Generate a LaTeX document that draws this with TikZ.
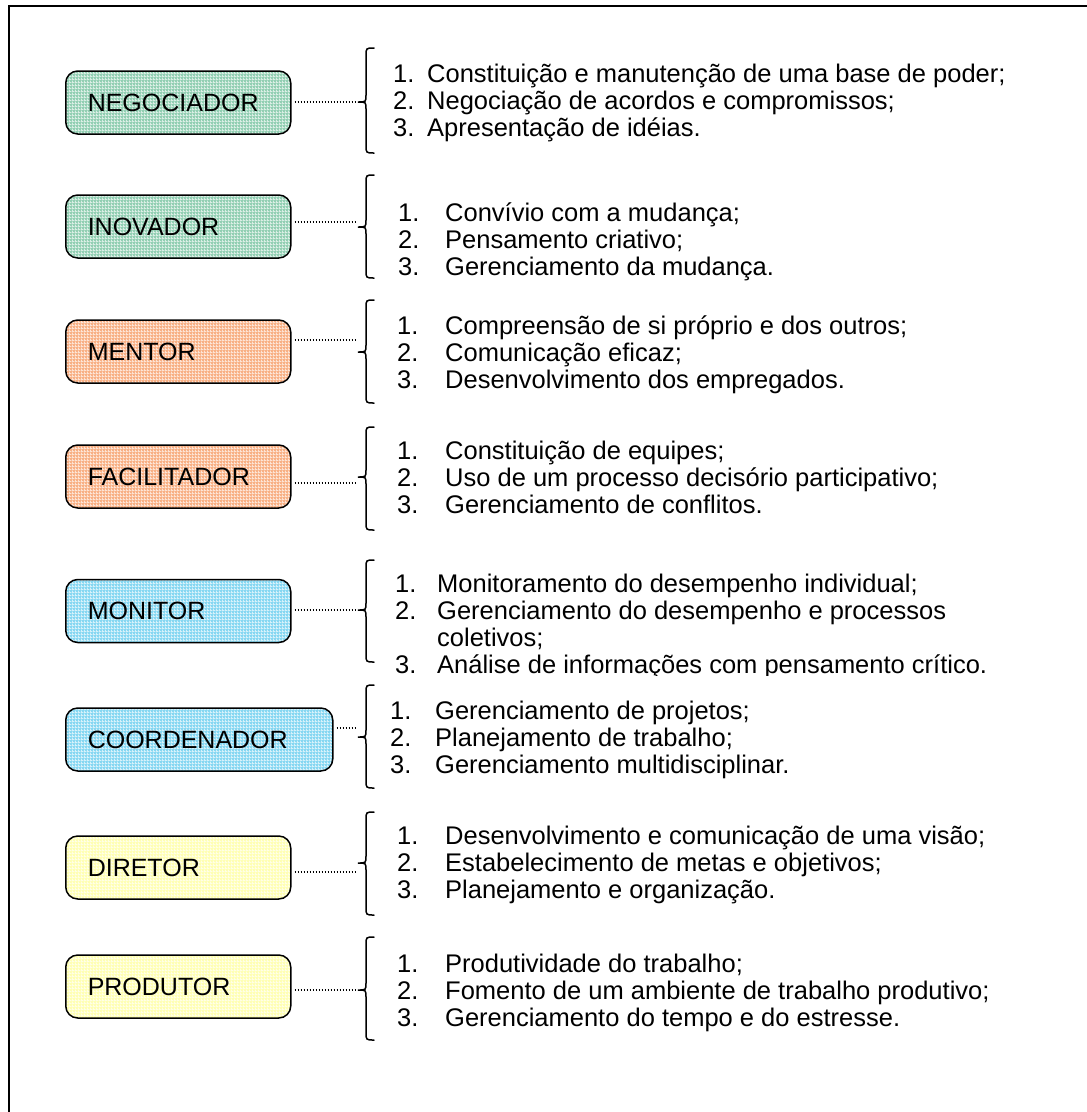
\documentclass[tikz,border=0pt]{standalone}
\usepackage{fontspec}
\setmainfont{Liberation Sans}
\usepackage{array}
\usetikzlibrary{patterns.meta}
\definecolor{cgreen}{HTML}{92CFB3}
\definecolor{corange}{HTML}{F8B085}
\definecolor{cblue}{HTML}{86D7F2}
\definecolor{cyellow}{HTML}{FFFFB4}
% light grid laid over the box fills
\tikzdeclarepattern{name=finegrid, type=uncolored,
  bounding box={(0pt,0pt) and (3pt,3pt)}, tile size={(3pt,3pt)},
  code={\fill (0pt,0pt) rectangle (1pt,3pt); \fill (1pt,0pt) rectangle (3pt,1pt);}}
% curly brace: top y, bottom y, tip y
\newcommand\wbrace[3]{%
  \draw[bracestyle] (374,#1) .. controls (366,#1) .. (366,{#1+8})
    -- (366,{#3-7}) .. controls (366,#3) .. (358,#3)
    .. controls (366,#3) .. (366,{#3+7})
    -- (366,{#2-8}) .. controls (366,#2) .. (374,#2);}
\begin{document}
\begin{tikzpicture}[x=1pt,y=-1pt,
  font=\fontsize{25.5}{27}\selectfont,
  role/.style={draw=black, line width=1.5pt, rounded corners=12pt,
    minimum height=63pt, inner xsep=22pt, inner ysep=0pt,
    text width=#1, align=left, anchor=west, font=\fontsize{25}{27}\selectfont},
  role/.default=181pt,
  tint/.style={preaction={fill=#1}, pattern=finegrid, pattern color=#1!35!white},
  items/.style={inner sep=0pt, anchor=north west},
  dotline/.style={line width=1.2pt, dash pattern=on 1.2pt off 1.8pt, shorten <=3pt},
  bracestyle/.style={line width=1.5pt, line cap=round}]
\useasboundingbox (0,0) rectangle (1087,1112);
% outer frame
\draw[line width=2pt] (8.5,1112) -- (8.5,5.5) -- (1087,5.5);

% roles
\node[role, tint=cgreen]  (neg) at (65,102.5) {NEGOCIADOR};
\node[role, tint=cgreen]  (ino) at (65,226.5) {INOVADOR};
\node[role, tint=corange] (men) at (65,351.5) {MENTOR};
\node[role, tint=corange] (fac) at (65,476.5) {FACILITADOR};
\node[role, tint=cblue]   (mon) at (65,611)   {MONITOR};
\node[role=223pt, tint=cblue] (coo) at (65,739.5) {COORDENADOR};
\node[role, tint=cyellow] (dir) at (65,867.5) {DIRETOR};
\node[role, tint=cyellow] (pro) at (65,986.5) {PRODUTOR};

% braces
\wbrace{48}{153}{102}
\wbrace{175}{278}{227}
\wbrace{300}{403}{352}
\wbrace{427}{530}{477}
\wbrace{560}{662}{610}
\wbrace{685}{788}{737}
\wbrace{812}{915}{863}
\wbrace{937}{1040}{990}

% connector ends at the braces
\coordinate (tneg) at (357,102);
\coordinate (tino) at (357,222);
\coordinate (tmen) at (357,340);
\coordinate (tfac) at (357,483);
\coordinate (tmon) at (357,610);
\coordinate (tcoo) at (357,728);
\coordinate (tdir) at (357,872);
\coordinate (tpro) at (357,990);
\foreach \r in {neg,ino,men,fac,mon,coo,dir,pro}
  \draw[dotline] (\r.east |- t\r) -- (t\r);

% competence lists
\node[items] (lneg) at (393,63.2) {\begin{tabular}{@{}p{34pt}@{}l@{}}
1. & Constituição e manutenção de uma base de poder;\\
2. & Negociação de acordos e compromissos;\\
3. & Apresentação de idéias.\end{tabular}};
\node[items] (lino) at (398,202.2) {\begin{tabular}{@{}p{47pt}@{}l@{}}
1. & Convívio com a mudança;\\
2. & Pensamento criativo;\\
3. & Gerenciamento da mudança.\end{tabular}};
\node[items] (lmen) at (397,315.2) {\begin{tabular}{@{}p{48pt}@{}l@{}}
1. & Compreensão de si próprio e dos outros;\\
2. & Comunicação eficaz;\\
3. & Desenvolvimento dos empregados.\end{tabular}};
\node[items] (lfac) at (397,440.2) {\begin{tabular}{@{}p{48pt}@{}l@{}}
1. & Constituição de equipes;\\
2. & Uso de um processo decisório participativo;\\
3. & Gerenciamento de conflitos.\end{tabular}};
\begin{scope}
\clip (380,550) rectangle (1087,675);
\node[items] (lmon) at (395,573.2) {\begin{tabular}{@{}p{42pt}@{}l@{}}
1. & Monitoramento do desempenho individual;\\
2. & Gerenciamento do desempenho e processos\\
   & coletivos;\\
3. & Análise de informações com pensamento crítico.\end{tabular}};
\end{scope}
\node[items] (lcoo) at (390,700.2) {\begin{tabular}{@{}p{45pt}@{}l@{}}
1. & Gerenciamento de projetos;\\
2. & Planejamento de trabalho;\\
3. & Gerenciamento multidisciplinar.\end{tabular}};
\node[items] (ldir) at (397,825.2) {\begin{tabular}{@{}p{48pt}@{}l@{}}
1. & Desenvolvimento e comunicação de uma visão;\\
2. & Estabelecimento de metas e objetivos;\\
3. & Planejamento e organização.\end{tabular}};
\node[items] (lpro) at (397,953.2) {\begin{tabular}{@{}p{48pt}@{}l@{}}
1. & Produtividade do trabalho;\\
2. & Fomento de um ambiente de trabalho produtivo;\\
3. & Gerenciamento do tempo e do estresse.\end{tabular}};
\end{tikzpicture}
\end{document}
